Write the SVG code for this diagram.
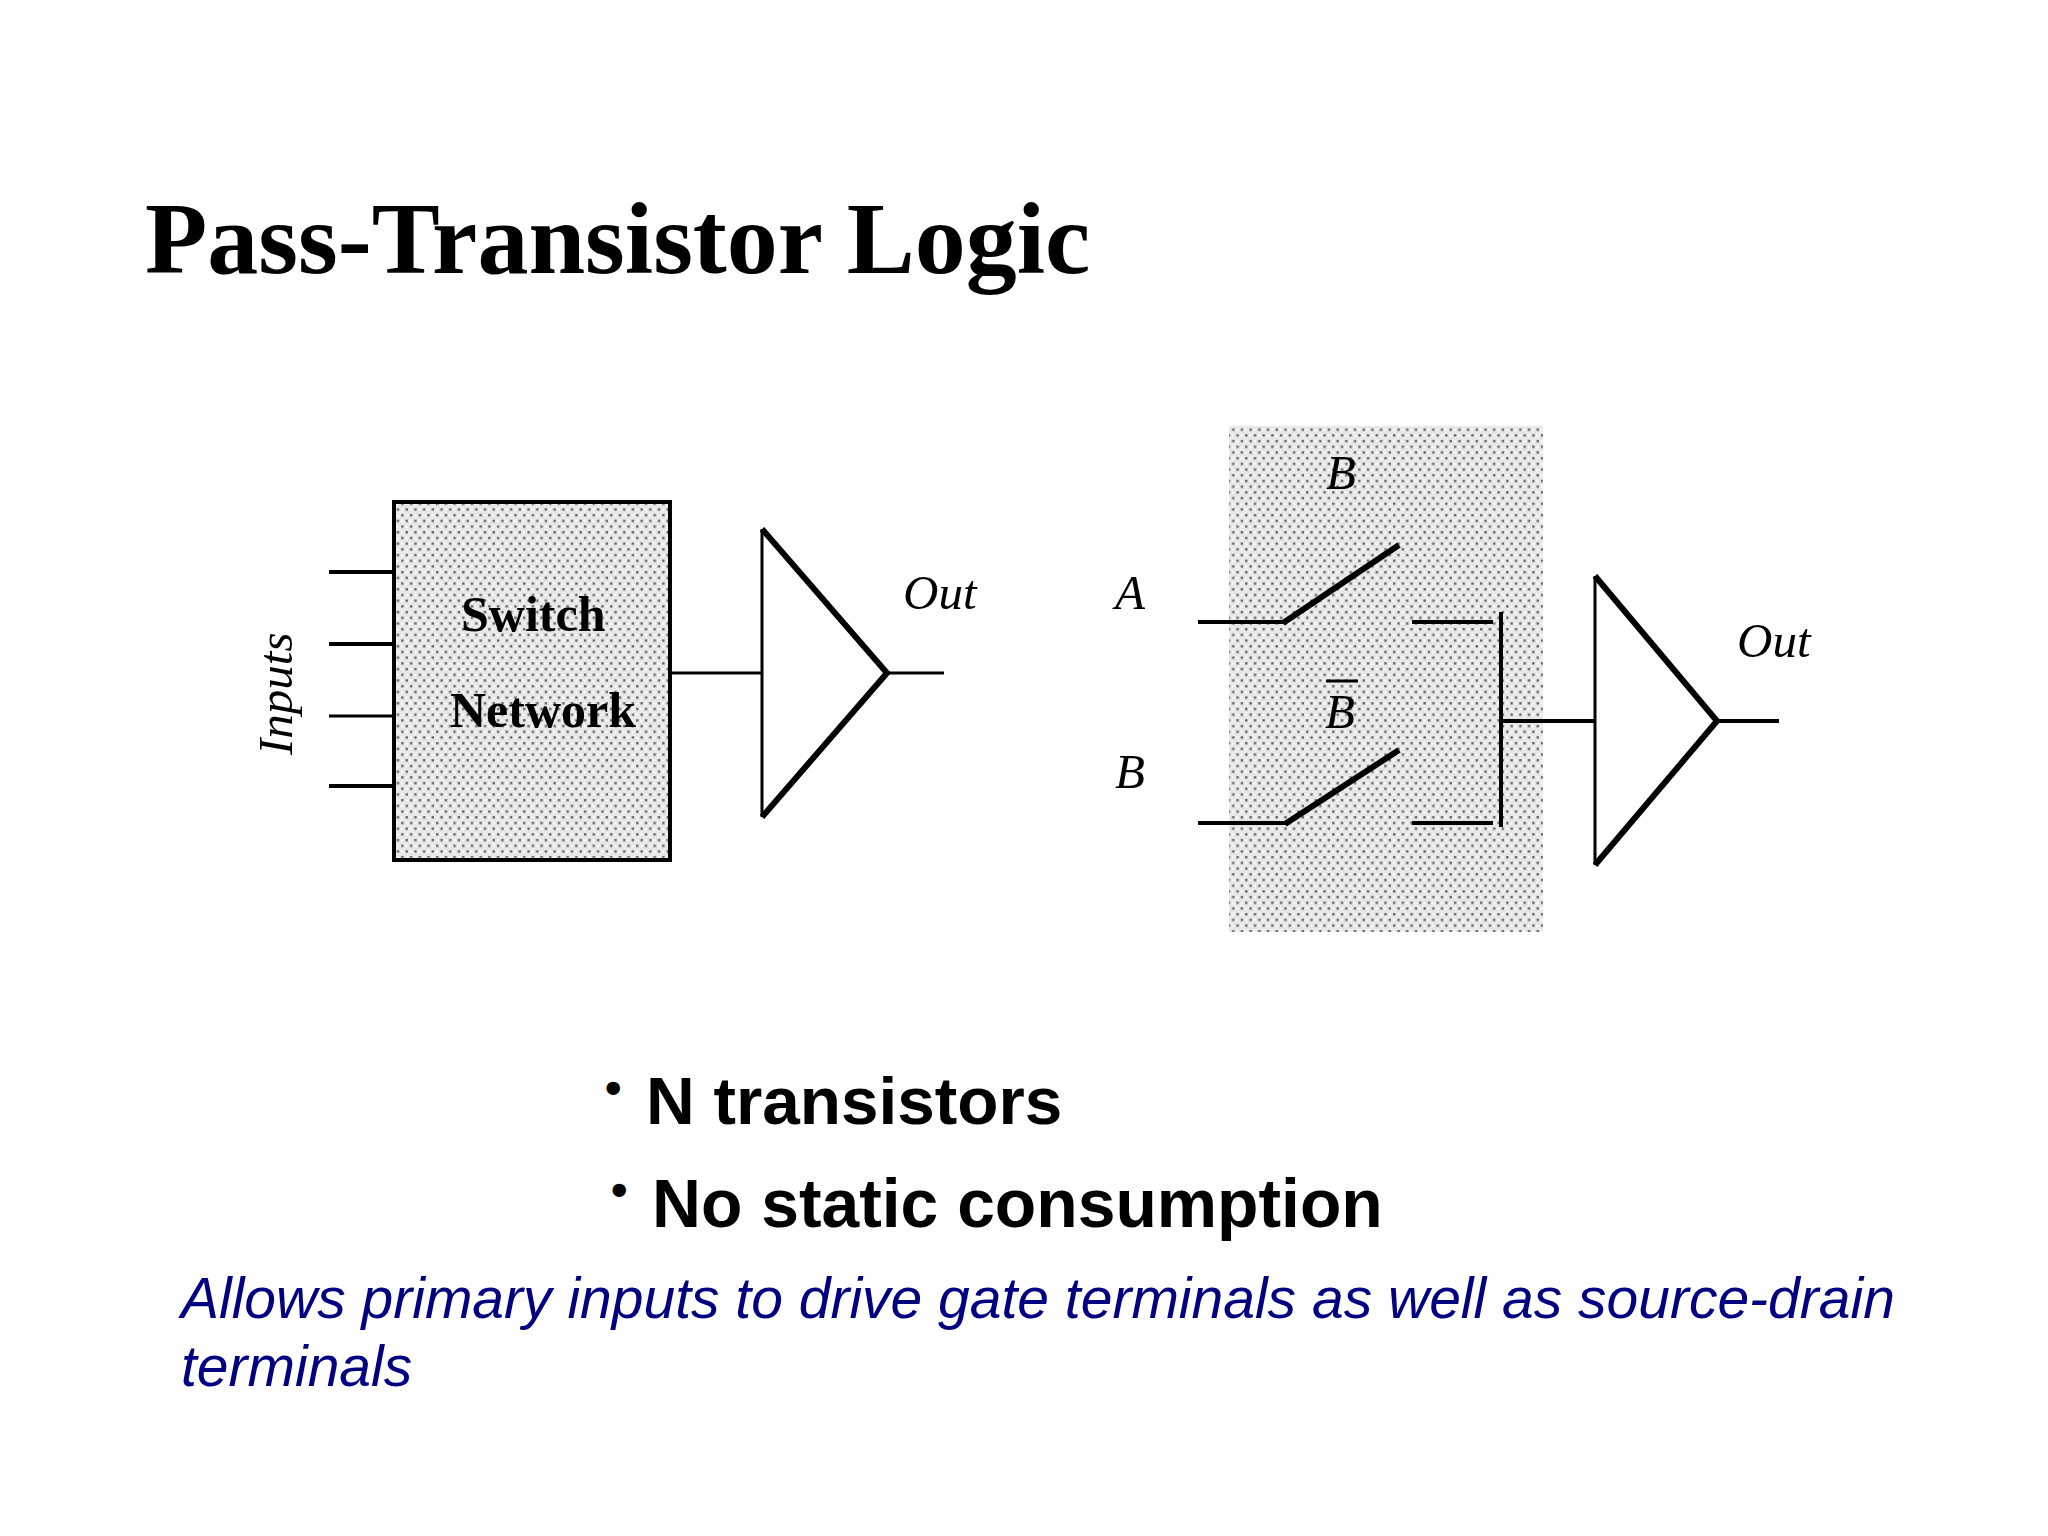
<svg xmlns="http://www.w3.org/2000/svg" width="2048" height="1536" viewBox="0 0 2048 1536">
<style>
.w{fill:none;stroke:#000;stroke-width:4;stroke-linecap:butt;stroke-linejoin:miter}
.d{stroke-width:6}
.n{stroke-width:3}
.serif{font-family:"Liberation Serif",serif;fill:#000}
.i{font-style:italic;font-size:49px}
.b{font-weight:bold;font-size:50px}
.bul{font-family:"Liberation Sans",sans-serif;font-weight:bold;font-size:67.5px;fill:#000}
.wide{font-size:67.8px}
.dot{font-size:47px}
.blue{font-family:"Liberation Sans",sans-serif;font-style:italic;font-size:57px;fill:#000080}
</style>
<defs>
<pattern id="dots" width="8.7" height="11.4" patternUnits="userSpaceOnUse">
<rect width="8.7" height="11.4" fill="#e8e8e8"/>
<rect x="1" y="1" width="2.4" height="2.4" fill="#666"/>
<rect x="5.35" y="6.7" width="2.4" height="2.4" fill="#666"/>
<rect x="5.35" y="1.5" width="1.8" height="1.8" fill="#fff"/>
<rect x="1" y="7.2" width="1.8" height="1.8" fill="#fff"/>
</pattern>
</defs>
<rect width="2048" height="1536" fill="#fff"/>
<text id="title" class="serif" x="145" y="273" font-size="102" font-weight="bold">Pass-Transistor Logic</text>
<g id="switch-network">
<rect x="394" y="502" width="276" height="358" fill="url(#dots)" stroke="#000" stroke-width="4"/>
<text class="serif b" x="461" y="631">Switch</text>
<text class="serif b" x="450" y="727">Network</text>
</g>
<text id="inputs-label" class="serif i" transform="translate(292 755) rotate(-90)">Inputs</text>
<g id="buffer-left">
<path class="w n" d="M762 529V817"/>
<path class="w d" d="M762 529L887 673L762 817"/>
</g>
<text id="out-left" class="serif i" x="903" y="609">Out</text>
<g id="pass-network">
<rect x="1229" y="426" width="314" height="506" fill="url(#dots)"/>
</g>
<text id="b-top" class="serif i" x="1326" y="489">B</text>
<text id="a-label" class="serif i" x="1115" y="609">A</text>
<text id="b-label" class="serif i" x="1115" y="788">B</text>
<text id="b-bar" class="serif i" x="1325" y="728">B</text>
<path id="b-bar-line" d="M1326 681H1358" fill="none" stroke="#000" stroke-width="3"/>
<g id="buffer-right">
<path class="w n" d="M1595 576V865"/>
<path class="w d" d="M1595 576L1717 721L1595 865"/>
</g>
<text id="out-right" class="serif i" x="1737" y="657">Out</text>
<g id="connectors">
<path class="w" d="M329 572H393M329 644H393"/>
<path class="w n" d="M329 716H393"/>
<path class="w" d="M329 786H393"/>
<path class="w n" d="M670 673H762M887 673H944"/>
<path class="w" d="M1198 622H1284"/>
<path class="w d" d="M1283 623L1399 545"/>
<path class="w" d="M1198 823H1286"/>
<path class="w d" d="M1285 824L1399 750"/>
<path class="w" d="M1412 622H1493M1412 823H1493"/>
<path class="w" d="M1501 612V827M1502 721H1595M1717 721H1779"/>
</g>
<g id="bullets">
<text class="bul dot" x="605" y="1104">•</text>
<text class="bul" x="646" y="1124">N transistors</text>
<text class="bul dot" x="611" y="1206">•</text>
<text class="bul wide" x="652" y="1227">No static consumption</text>
</g>
<g id="note">
<text class="blue" x="181" y="1318">Allows primary inputs to drive gate terminals as well as source-drain</text>
<text class="blue" x="181" y="1386">terminals</text>
</g>
</svg>
